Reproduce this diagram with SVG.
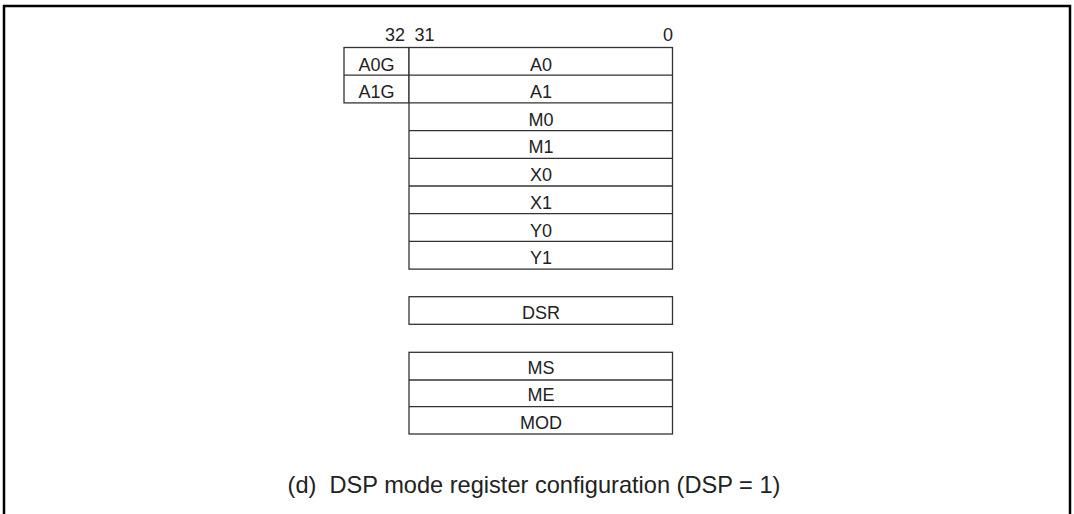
<svg xmlns="http://www.w3.org/2000/svg" width="1074" height="514" viewBox="0 0 1074 514">
<style>
.b{fill:#fff;stroke:#333;stroke-width:1.3}
.l{stroke:#333;stroke-width:1.3;fill:none}
.t{font-family:"Liberation Sans",Arial,sans-serif;font-size:18px;fill:#222;text-anchor:middle}
.c{font-family:"Liberation Sans",Arial,sans-serif;font-size:23.6px;fill:#222;text-anchor:middle}
</style>
<rect x="4" y="6" width="1066" height="520" fill="none" stroke="#000" stroke-width="2.5"/>
<g id="bits">
<text class="t" x="395" y="41.2">32</text>
<text class="t" x="424.5" y="41.2">31</text>
<text class="t" x="668" y="40.8">0</text>
</g>
<g id="guard">
<rect class="b" x="344" y="47.5" width="65" height="55.4"/>
<line class="l" x1="344" y1="75.2" x2="409" y2="75.2"/>
<text class="t" x="376.5" y="70.5">A0G</text>
<text class="t" x="376.5" y="98">A1G</text>
</g>
<g id="regs">
<rect class="b" x="409" y="47.5" width="263.5" height="221.6"/>
<line class="l" x1="409" y1="75.2" x2="672.5" y2="75.2"/>
<line class="l" x1="409" y1="102.9" x2="672.5" y2="102.9"/>
<line class="l" x1="409" y1="130.6" x2="672.5" y2="130.6"/>
<line class="l" x1="409" y1="158.3" x2="672.5" y2="158.3"/>
<line class="l" x1="409" y1="186" x2="672.5" y2="186"/>
<line class="l" x1="409" y1="213.7" x2="672.5" y2="213.7"/>
<line class="l" x1="409" y1="241.4" x2="672.5" y2="241.4"/>
<text class="t" x="541" y="70.5">A0</text>
<text class="t" x="541" y="98">A1</text>
<text class="t" x="541" y="125.7">M0</text>
<text class="t" x="541" y="153.4">M1</text>
<text class="t" x="541" y="181.1">X0</text>
<text class="t" x="541" y="208.8">X1</text>
<text class="t" x="541" y="236.5">Y0</text>
<text class="t" x="541" y="263.7">Y1</text>
</g>
<g id="dsr">
<rect class="b" x="409" y="296.7" width="263.5" height="27.6"/>
<text class="t" x="541" y="318.6">DSR</text>
</g>
<g id="mod">
<rect class="b" x="409" y="352.3" width="263.5" height="81.7"/>
<line class="l" x1="409" y1="380" x2="672.5" y2="380"/>
<line class="l" x1="409" y1="406.7" x2="672.5" y2="406.7"/>
<text class="t" x="541" y="374.2">MS</text>
<text class="t" x="541" y="401.4">ME</text>
<text class="t" x="541" y="428.8">MOD</text>
</g>
<text class="c" x="534" y="492.5" xml:space="preserve">(d)  DSP mode register configuration (DSP = 1)</text>
</svg>
